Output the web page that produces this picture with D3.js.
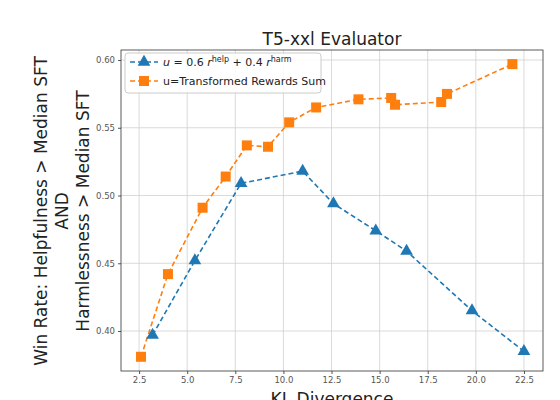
<!DOCTYPE html><html><head><meta charset="utf-8">
<script src="https://cdn.jsdelivr.net/npm/d3@7"></script>
<style>body{margin:0;background:#fff}text{font-family:"DejaVu Sans",sans-serif}</style></head><body>
<svg id="c" width="560" height="400"></svg>
<script>
const blueX=[3.2,5.4,7.8,11.0,12.6,14.8,16.4,19.8,22.5];
const blueY=[0.397,0.452,0.509,0.518,0.494,0.474,0.459,0.415,0.385];
const orangeX=[2.6,4.0,5.8,7.0,8.1,9.2,10.3,11.7,13.9,15.6,15.8,18.2,18.5,21.9];
const orangeY=[0.381,0.442,0.491,0.514,0.537,0.536,0.554,0.565,0.571,0.572,0.567,0.569,0.575,0.597];
const xTicks=[2.5,5,7.5,10,12.5,15,17.5,20,22.5];
const yTicks=[0.40,0.45,0.50,0.55,0.60];
const svg=d3.select("#c");
const L=121,R=543,T=50,B=371;
const x=d3.scaleLinear().domain([1.56,23.49]).range([L,R]);
const y=d3.scaleLinear().domain([0.3705,0.6074]).range([B,T]);
const g=svg.append("g");
g.selectAll(".gx").data(xTicks).enter().append("line").attr("x1",d=>x(d)).attr("x2",d=>x(d)).attr("y1",T).attr("y2",B).attr("stroke","#d0d0d0").attr("stroke-width",0.8);
g.selectAll(".gy").data(yTicks).enter().append("line").attr("y1",d=>y(d)).attr("y2",d=>y(d)).attr("x1",L).attr("x2",R).attr("stroke","#d0d0d0").attr("stroke-width",0.8);
const xa=svg.append("g").attr("transform",`translate(0,${B})`).call(d3.axisBottom(x).tickValues(xTicks).tickFormat(d3.format(".1f")).tickSize(3));
const ya=svg.append("g").attr("transform",`translate(${L},0)`).call(d3.axisLeft(y).tickValues(yTicks).tickFormat(d3.format(".2f")).tickSize(3));
[xa,ya].forEach(a=>{a.select(".domain").remove();a.selectAll("text").attr("fill","#555").style("font-size","8.5px");a.selectAll("line").attr("stroke","#555");});
svg.append("rect").attr("x",L).attr("y",T).attr("width",R-L).attr("height",B-T).attr("fill","none").attr("stroke","#333").attr("stroke-width",0.8);
const line=d3.line().x(d=>x(d[0])).y(d=>y(d[1]));
const ob=orangeX.map((v,i)=>[v,orangeY[i]]), bb=blueX.map((v,i)=>[v,blueY[i]]);
svg.append("path").attr("d",line(bb)).attr("fill","none").attr("stroke","#1f77b4").attr("stroke-width",1.6).attr("stroke-dasharray","5,3");
svg.append("path").attr("d",line(ob)).attr("fill","none").attr("stroke","#ff7f0e").attr("stroke-width",1.6).attr("stroke-dasharray","5,3");
const tri=d3.symbol().type(d3.symbolTriangle).size(70);
svg.selectAll(".b").data(bb).enter().append("path").attr("d",tri).attr("transform",d=>`translate(${x(d[0])},${y(d[1])})`).attr("fill","#1f77b4");
svg.selectAll(".o").data(ob).enter().append("rect").attr("x",d=>x(d[0])-5).attr("y",d=>y(d[1])-5).attr("width",10).attr("height",10).attr("fill","#ff7f0e");
// legend
const lg=svg.append("g");
lg.append("rect").attr("x",125).attr("y",53).attr("width",196).attr("height",40).attr("rx",3).attr("fill","#fff").attr("fill-opacity",0.85).attr("stroke","#ccc");
lg.append("line").attr("x1",130).attr("x2",158).attr("y1",62).attr("y2",62).attr("stroke","#1f77b4").attr("stroke-width",1.6).attr("stroke-dasharray","5,3");
lg.append("path").attr("d",tri).attr("transform","translate(144,62)").attr("fill","#1f77b4");
lg.append("line").attr("x1",130).attr("x2",158).attr("y1",81).attr("y2",81).attr("stroke","#ff7f0e").attr("stroke-width",1.6).attr("stroke-dasharray","5,3");
lg.append("rect").attr("x",139).attr("y",76).attr("width",10).attr("height",10).attr("fill","#ff7f0e");
const t1=lg.append("text").attr("x",163).attr("y",66).style("font-size","11px").attr("fill","#222");
t1.append("tspan").attr("font-style","italic").text("u");
t1.append("tspan").text(" = 0.6 ");
t1.append("tspan").attr("font-style","italic").text("r");
t1.append("tspan").attr("dy",-4).style("font-size","8px").text("help");
t1.append("tspan").attr("dy",4).text(" + 0.4 ");
t1.append("tspan").attr("font-style","italic").text("r");
t1.append("tspan").attr("dy",-4).style("font-size","8px").text("harm");
lg.append("text").attr("x",163).attr("y",85).style("font-size","11px").attr("fill","#222").text("u=Transformed Rewards Sum");
svg.append("text").attr("x",(L+R)/2).attr("y",45).attr("text-anchor","middle").style("font-size","17px").attr("fill","#222").text("T5-xxl Evaluator");
svg.append("text").attr("x",(L+R)/2).attr("y",405).attr("text-anchor","middle").style("font-size","17px").attr("fill","#222").text("KL Divergence");
const yl=svg.append("text").attr("transform","translate(0,211) rotate(-90)").attr("text-anchor","middle").style("font-size","17px").attr("fill","#222");
yl.append("tspan").attr("x",0).attr("y",47).text("Win Rate: Helpfulness > Median SFT");
yl.append("tspan").attr("x",0).attr("y",68).text("AND");
yl.append("tspan").attr("x",0).attr("y",89).text("Harmlessness > Median SFT");
</script></body></html>
